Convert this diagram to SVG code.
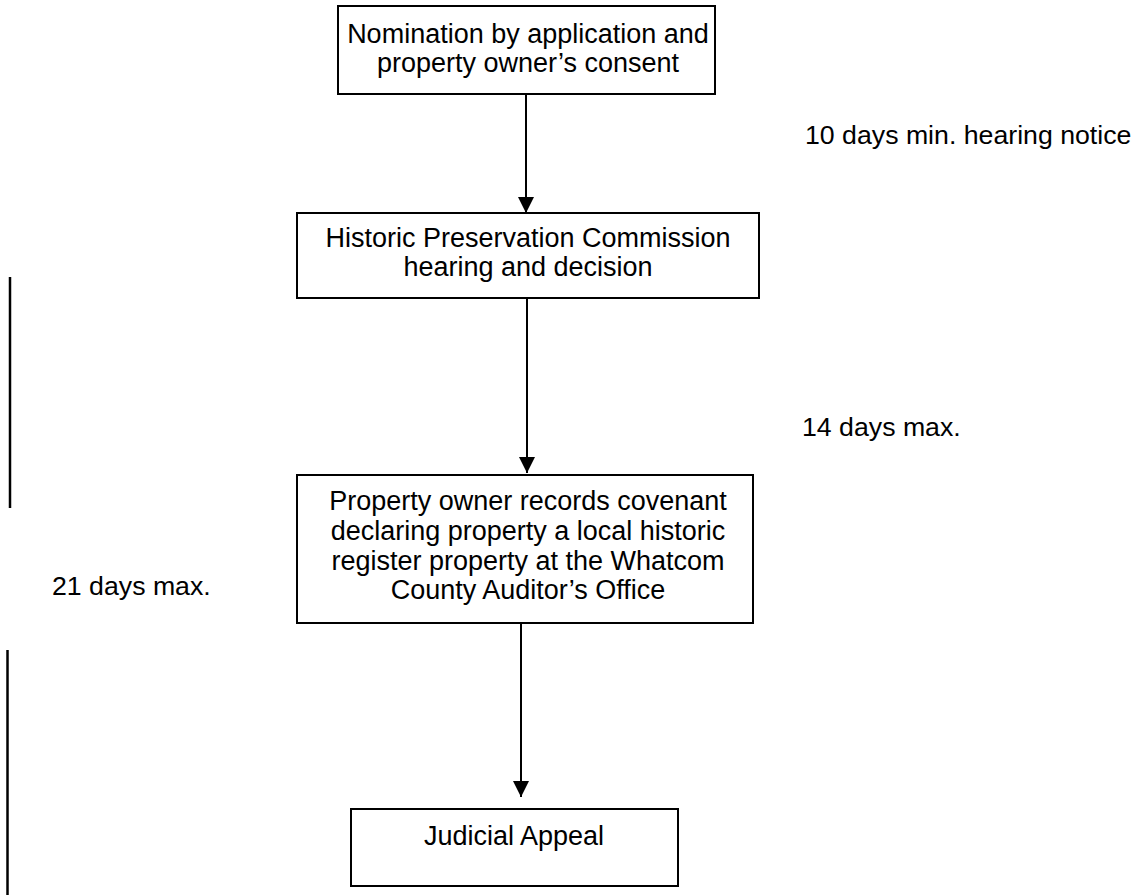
<svg xmlns="http://www.w3.org/2000/svg" width="1136" height="895" viewBox="0 0 1136 895">
<style>
.box{fill:#fff;stroke:#000;stroke-width:2}
.t{font-family:"Liberation Sans",Arial,sans-serif;font-size:27px;fill:#000;text-anchor:middle}
.l{font-family:"Liberation Sans",Arial,sans-serif;font-size:26.7px;fill:#000}
.c{stroke:#000;stroke-width:2;fill:none}
.bar{stroke:#000;stroke-width:2.5}
</style>
<defs>
<marker id="ah" markerUnits="userSpaceOnUse" markerWidth="17" markerHeight="17" refX="16" refY="8" orient="auto">
<path d="M0,0 L16,8 L0,16 Z" fill="#000"/>
</marker>
</defs>
<rect width="1136" height="895" fill="#fff"/>
<g id="connectors">
<line class="c" x1="526" y1="95" x2="526" y2="213" marker-end="url(#ah)"/>
<line class="c" x1="527" y1="299" x2="527" y2="473" marker-end="url(#ah)"/>
<line class="c" x1="521" y1="624" x2="521" y2="797" marker-end="url(#ah)"/>
</g>
<g id="n1">
<rect class="box" x="338" y="6" width="377" height="88"/>
<text class="t" x="528" y="43">Nomination by application and</text>
<text class="t" x="528" y="72">property owner’s consent</text>
</g>
<g id="n2">
<rect class="box" x="297" y="213" width="462" height="85"/>
<text class="t" x="528" y="247">Historic Preservation Commission</text>
<text class="t" x="528" y="276">hearing and decision</text>
</g>
<g id="n3">
<rect class="box" x="297" y="475" width="456" height="148"/>
<text class="t" x="528" y="510">Property owner records covenant</text>
<text class="t" x="528" y="540">declaring property a local historic</text>
<text class="t" x="528" y="570">register property at the Whatcom</text>
<text class="t" x="528" y="599">County Auditor’s Office</text>
</g>
<g id="n4">
<rect class="box" x="351" y="809" width="327" height="77"/>
<text class="t" x="514" y="845">Judicial Appeal</text>
</g>
<g id="labels">
<text class="l" x="805" y="144">10 days min. hearing notice</text>
<text class="l" x="802" y="436">14 days max.</text>
<text class="l" x="52" y="595">21 days max.</text>
</g>
<g id="bars">
<line class="bar" x1="10" y1="277" x2="10" y2="508"/>
<line class="bar" x1="7.5" y1="650" x2="7.5" y2="895"/>
</g>
</svg>
